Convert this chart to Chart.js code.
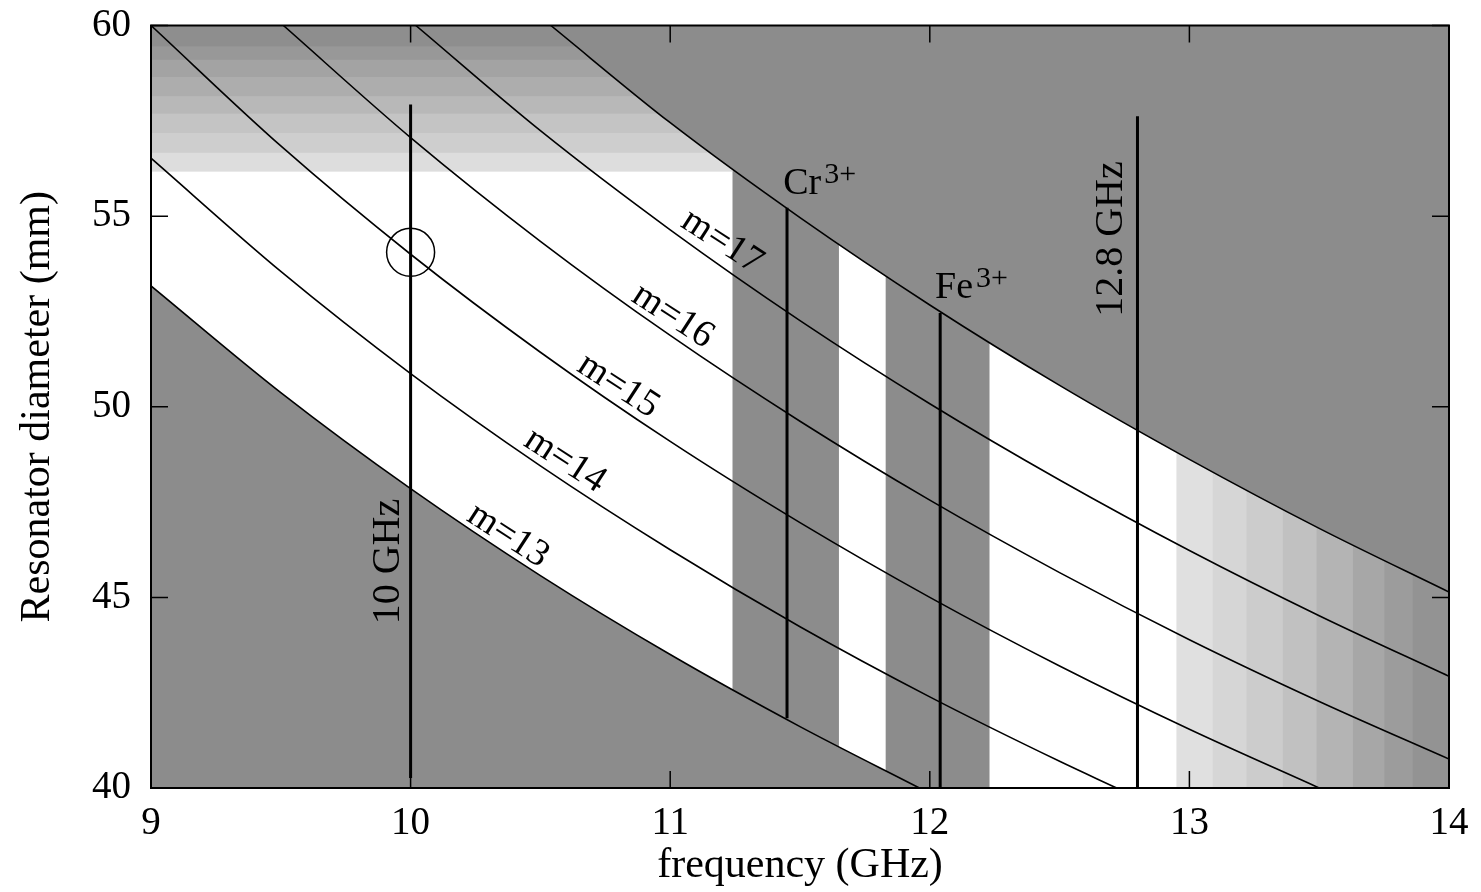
<!DOCTYPE html>
<html>
<head>
<meta charset="utf-8">
<script src="https://cdn.jsdelivr.net/npm/chart.js@4"></script>
<style>
  html, body { margin: 0; padding: 0; background: #fff; }
  canvas { display: block; }
</style>
</head>
<body>
<canvas id="myChart" width="1481" height="892"></canvas>
<script>
// Mode curves: frequency (GHz) and resonator diameter (mm)
const m13Freq = [9, 9.5, 10, 10.5, 11, 11.5, 11.96];
const m13Diam = [53.17, 50.37, 47.85, 45.57, 43.5, 41.61, 40.0];
const m14Freq = [9, 9.5, 10, 10.5, 11, 11.5, 12, 12.5, 12.72];
const m14Diam = [56.52, 53.55, 50.87, 48.45, 46.25, 44.23, 42.39, 40.7, 40.0];
const m15Freq = [9, 9.5, 10, 10.5, 11, 11.5, 12, 12.5, 13, 13.5];
const m15Diam = [60.0, 56.84, 54.0, 51.43, 49.09, 46.96, 45.0, 43.2, 41.54, 40.0];
const m16Freq = [9.51, 10, 10.5, 11, 11.5, 12, 12.5, 13, 13.5, 14];
const m16Diam = [60.0, 57.06, 54.34, 51.87, 49.62, 47.55, 45.65, 43.89, 42.27, 40.76];
const m17Freq = [10.02, 10.5, 11, 11.5, 12, 12.5, 13, 13.5, 14];
const m17Diam = [60.0, 57.24, 54.64, 52.26, 50.08, 48.08, 46.23, 44.52, 42.93];
// upper limit of the allowed region
const edgeFreq = [10.54, 11, 11.5, 12, 12.5, 13, 13.5, 14];
const edgeDiam = [60.0, 57.45, 54.96, 52.67, 50.56, 48.62, 46.81, 45.14];

// vertical markers: frequency, bottom and top diameter
const markerFreq = [10.0, 11.45, 12.04, 12.8];
const markerBottom = [40.26, 41.83, 40.0, 40.0];
const markerTop = [57.93, 55.22, 52.46, 57.62];

// the circled operating point
const circleFreq = [10.0];
const circleDiam = [54.05];

// shading
const grayBands = [[11.24, 11.65], [11.83, 12.23]];
const topStripeDiam = [60.0, 59.45, 59.1, 58.64, 58.14, 57.69, 57.18, 56.66, 56.18];
const topStripeColors = ["#8e8e8e", "#989898", "#a3a3a3", "#adadad", "#b8b8b8", "#c4c4c4", "#cecece", "#dddddd"];
const topStripeFreq = [9, 11.24];
const rightStripeFreq = [12.95, 13.09, 13.22, 13.36, 13.49, 13.63, 13.75, 13.86, 14.0];
const rightStripeColors = ["#e0e0e0", "#d6d6d6", "#cccccc", "#c1c1c1", "#b4b4b4", "#a7a7a7", "#9c9c9c", "#939393"];

// tick values
const xTicks = [9, 10, 11, 12, 13, 14];
const yTicks = [40, 45, 50, 55, 60];

// text labels (data coordinates)
const modeLabels = [
  { text: "m=13", f: 10.375, d: 46.62 },
  { text: "m=14", f: 10.595, d: 48.59 },
  { text: "m=15", f: 10.8, d: 50.55 },
  { text: "m=16", f: 11.01, d: 52.38 },
  { text: "m=17", f: 11.2, d: 54.33 },
];
const freqLabels = [
  { text: "10 GHz", f: 9.913, d: 45.94 },
  { text: "12.8 GHz", f: 12.7, d: 54.4 },
];
const ionLabels = [
  { base: "Cr", sup: "3+", f: 11.435, d: 55.58 },
  { base: "Fe", sup: "3+", f: 12.02, d: 52.85 },
];

const GRAY = "#8c8c8c";
const FONT = "'Liberation Serif', 'Times New Roman', serif";

function toPoints(xs, ys) {
  return xs.map((v, i) => ({ x: v, y: ys[i] }));
}

function curve(xs, ys) {
  return {
    type: "line",
    data: toPoints(xs, ys),
    borderColor: "#000",
    borderWidth: 1.6,
    pointRadius: 0,
    fill: false,
    cubicInterpolationMode: "monotone",
  };
}

const curveSets = [
  curve(m13Freq, m13Diam),
  curve(m14Freq, m14Diam),
  curve(m15Freq, m15Diam),
  curve(m16Freq, m16Diam),
  curve(m17Freq, m17Diam),
  curve(edgeFreq, edgeDiam),
];

const markerSets = markerFreq.map((f, i) => ({
  type: "line",
  data: [
    { x: f, y: markerBottom[i] },
    { x: f, y: markerTop[i] },
  ],
  borderColor: "#000",
  borderWidth: 3,
  pointRadius: 0,
  fill: false,
}));

const circleSet = {
  type: "scatter",
  data: toPoints(circleFreq, circleDiam),
  showLine: false,
  pointRadius: 24,
  pointBorderWidth: 1.5,
  pointBorderColor: "#000",
  pointBackgroundColor: "rgba(0,0,0,0)",
};

// add the path of a line element (falls back to straight segments)
function tracePath(ctx, meta) {
  const line = meta.dataset;
  if (line && typeof line.path === "function") {
    line.path(ctx);
  } else {
    meta.data.forEach((p, i) => (i ? ctx.lineTo(p.x, p.y) : ctx.moveTo(p.x, p.y)));
  }
}

// background shading, drawn under all datasets
const shadingPlugin = {
  id: "shading",
  beforeDatasetsDraw(chart) {
    const { ctx, chartArea: a, scales } = chart;
    const x = scales.x;
    const y = scales.y;
    ctx.save();
    ctx.fillStyle = GRAY;
    ctx.fillRect(a.left, a.top, a.width, a.height);

    // below the upper limit curve
    ctx.beginPath();
    tracePath(ctx, chart.getDatasetMeta(5));
    ctx.lineTo(a.right, a.bottom);
    ctx.lineTo(a.left, a.bottom);
    ctx.lineTo(a.left, a.top);
    ctx.closePath();
    ctx.clip();
    // above the m=13 curve
    ctx.beginPath();
    tracePath(ctx, chart.getDatasetMeta(0));
    ctx.lineTo(a.right, a.bottom);
    ctx.lineTo(a.right, a.top);
    ctx.lineTo(a.left, a.top);
    ctx.closePath();
    ctx.clip();

    ctx.fillStyle = "#fff";
    ctx.fillRect(a.left, a.top, a.width, a.height);

    ctx.fillStyle = GRAY;
    grayBands.forEach(([f0, f1]) => {
      const x0 = x.getPixelForValue(f0);
      ctx.fillRect(x0, a.top, x.getPixelForValue(f1) - x0, a.height);
    });

    const sx0 = x.getPixelForValue(topStripeFreq[0]);
    const sx1 = x.getPixelForValue(topStripeFreq[1]);
    topStripeColors.forEach((c, i) => {
      const y0 = y.getPixelForValue(topStripeDiam[i]);
      const y1 = y.getPixelForValue(topStripeDiam[i + 1]);
      ctx.fillStyle = c;
      ctx.fillRect(sx0, y0, sx1 - sx0, y1 - y0 + 0.5);
    });

    rightStripeColors.forEach((c, i) => {
      const x0 = x.getPixelForValue(rightStripeFreq[i]);
      const x1 = x.getPixelForValue(rightStripeFreq[i + 1]);
      ctx.fillStyle = c;
      ctx.fillRect(x0, a.top, x1 - x0 + 0.5, a.height);
    });
    ctx.restore();
  },
};

// frame, inward ticks and text labels
const overlayPlugin = {
  id: "overlay",
  afterDatasetsDraw(chart) {
    const { ctx, chartArea: a, scales } = chart;
    const x = scales.x;
    const y = scales.y;
    const tick = 17;
    ctx.save();
    ctx.strokeStyle = "#000";
    ctx.lineWidth = 1.5;
    ctx.beginPath();
    xTicks.forEach((v) => {
      const px = x.getPixelForValue(v);
      ctx.moveTo(px, a.bottom);
      ctx.lineTo(px, a.bottom - tick);
      ctx.moveTo(px, a.top);
      ctx.lineTo(px, a.top + tick);
    });
    yTicks.forEach((v) => {
      const py = y.getPixelForValue(v);
      ctx.moveTo(a.left, py);
      ctx.lineTo(a.left + tick, py);
      ctx.moveTo(a.right, py);
      ctx.lineTo(a.right - tick, py);
    });
    ctx.stroke();
    ctx.lineWidth = 2;
    ctx.strokeRect(a.left, a.top, a.width, a.height);

    ctx.fillStyle = "#000";
    ctx.textAlign = "center";
    ctx.textBaseline = "middle";
    ctx.font = "38px " + FONT;
    modeLabels.forEach((l) => {
      ctx.save();
      ctx.translate(x.getPixelForValue(l.f), y.getPixelForValue(l.d));
      ctx.rotate((33 * Math.PI) / 180);
      ctx.fillText(l.text, 0, 0);
      ctx.restore();
    });

    ctx.font = "40px " + FONT;
    freqLabels.forEach((l) => {
      ctx.save();
      ctx.translate(x.getPixelForValue(l.f), y.getPixelForValue(l.d));
      ctx.rotate(-Math.PI / 2);
      ctx.fillText(l.text, 0, 0);
      ctx.restore();
    });

    ctx.textAlign = "left";
    ctx.textBaseline = "alphabetic";
    ionLabels.forEach((l) => {
      const px = x.getPixelForValue(l.f);
      const py = y.getPixelForValue(l.d);
      ctx.font = "38px " + FONT;
      ctx.fillText(l.base, px, py);
      const w = ctx.measureText(l.base).width;
      ctx.font = "30px " + FONT;
      ctx.fillText(l.sup, px + w + 3, py - 11);
    });
    ctx.restore();
  },
};

const tickFont = { family: FONT, size: 39 };
const titleFont = { family: FONT, size: 42 };

new Chart(document.getElementById("myChart"), {
  type: "line",
  data: { datasets: [...curveSets, ...markerSets, circleSet] },
  options: {
    responsive: false,
    animation: false,
    events: [],
    layout: { padding: { left: 0, right: 32, top: 24, bottom: 0 } },
    elements: { line: { capBezierPoints: false } },
    scales: {
      x: {
        type: "linear",
        min: 9,
        max: 14,
        grid: { display: false, drawTicks: false },
        border: { display: false },
        ticks: { stepSize: 1, color: "#000", font: tickFont, padding: 12, maxRotation: 0 },
        title: { display: true, text: "frequency (GHz)", color: "#000", font: titleFont, padding: { top: 0, bottom: 1 } },
        afterFit(scale) {
          scale.height = 104;
        },
      },
      y: {
        type: "linear",
        min: 40,
        max: 60,
        grid: { display: false, drawTicks: false },
        border: { display: false },
        ticks: { stepSize: 5, color: "#000", font: tickFont, padding: 20 },
        title: { display: true, text: "Resonator diameter (mm)", color: "#000", font: titleFont, padding: { top: 13, bottom: 0 } },
        afterFit(scale) {
          scale.width = 151;
          scale.paddingTop = 0;
          scale.paddingBottom = 0;
        },
      },
    },
    plugins: {
      legend: { display: false },
      tooltip: { enabled: false },
    },
  },
  plugins: [shadingPlugin, overlayPlugin],
});
</script>
</body>
</html>
